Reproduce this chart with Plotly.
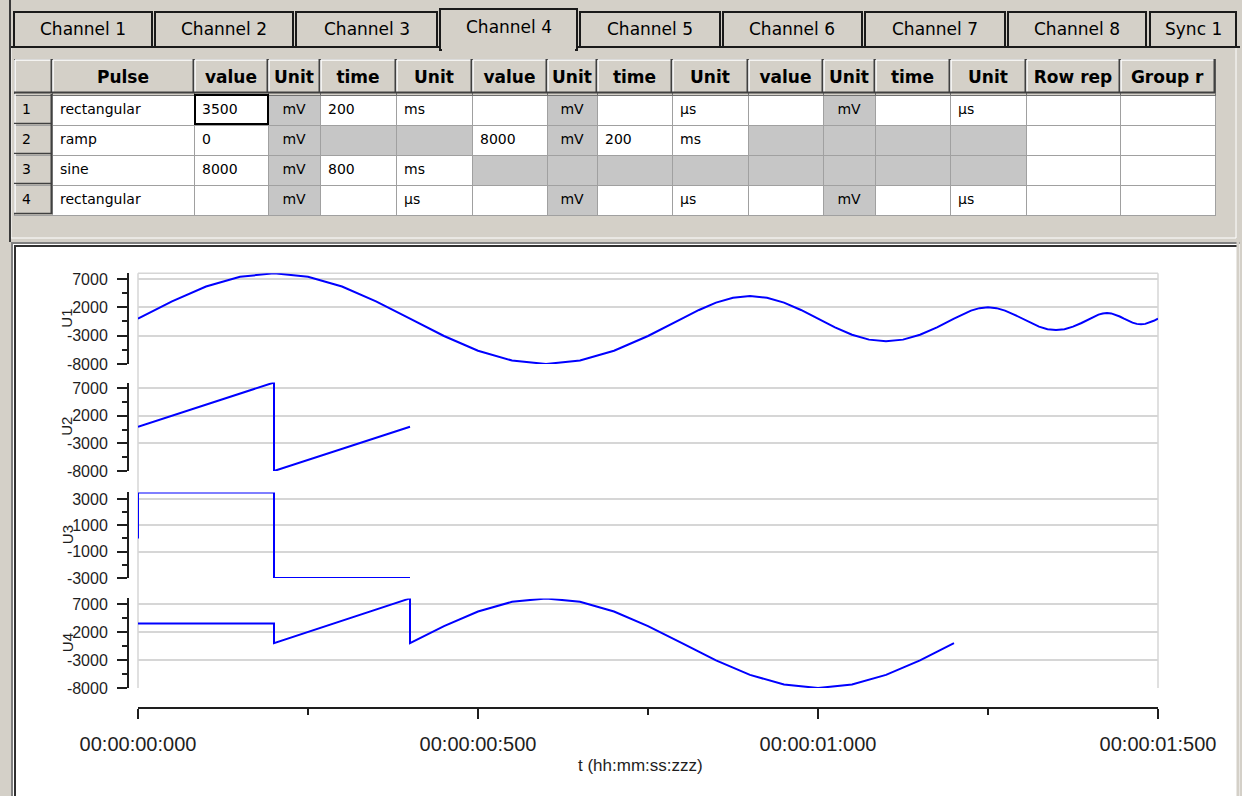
import plotly.graph_objects as go

W, H = 1242, 796

# ---- data (time in ms, voltage in mV) ----
U1_T = [0, 50, 100, 150, 200, 250, 300, 350, 400, 450, 500, 550, 600, 650, 700, 750, 800,
        825, 850, 875, 900, 925, 950, 975, 1000, 1025, 1050, 1075, 1100, 1125, 1150, 1175, 1200,
        1212.5, 1225, 1237.5, 1250, 1262.5, 1275, 1287.5, 1300, 1312.5, 1325, 1337.5, 1350,
        1362.5, 1375, 1387.5, 1400,
        1406.25, 1412.5, 1418.75, 1425, 1431.25, 1437.5, 1443.75, 1450, 1456.25, 1462.5,
        1468.75, 1475, 1481.25, 1487.5, 1493.75, 1500]
U1_V = [0, 3060, 5660, 7390, 8000, 7390, 5660, 3060, 0, -3060, -5660, -7390, -8000, -7390, -5660, -3060, 0,
        1530, 2830, 3700, 4000, 3700, 2830, 1530, 0, -1530, -2830, -3700, -4000, -3700, -2830, -1530, 0,
        770, 1410, 1850, 2000, 1850, 1410, 770, 0, -770, -1410, -1850, -2000,
        -1850, -1410, -770, 0,
        380, 710, 920, 1000, 920, 710, 380, 0, -380, -710,
        -920, -1000, -920, -710, -380, 0]

U2_T = [0, 200, 200, 400]
U2_V = [0, 8000, -8000, 0]

U3_T = [0, 0, 200, 200, 400]
U3_V = [0, 3500, 3500, -3000, -3000]

U4_T = [0, 200, 200, 400, 400, 450, 500, 550, 600, 650, 700, 750, 800,
        850, 900, 950, 1000, 1050, 1100, 1150, 1200]
U4_V = [3500, 3500, 0, 8000, 0, 3060, 5660, 7390, 8000, 7390, 5660, 3060, 0,
        -3060, -5660, -7390, -8000, -7390, -5660, -3060, 0]

X_TICKS = [0, 500, 1000, 1500]
X_LABELS = ["00:00:00:000", "00:00:00:500", "00:00:01:000", "00:00:01:500"]
X_MINOR = [250, 750, 1250]

Y_TICKS = [7000, 2000, -3000, -8000]
Y_LABELS = ["7000", "2000", "-3000", "-8000"]
Y_MINOR = [4500, -500, -5500]
Y3_TICKS = [3000, 1000, -1000, -3000]
Y3_LABELS = ["3000", "1000", "-1000", "-3000"]
Y3_MINOR = [2000, 0, -2000]

TABS = ["Channel 1", "Channel 2", "Channel 3", "Channel 4", "Channel 5",
        "Channel 6", "Channel 7", "Channel 8", "Sync 1"]
SELECTED_TAB = 3

HEADERS = ["", "Pulse", "value", "Unit", "time", "Unit", "value", "Unit", "time", "Unit",
           "value", "Unit", "time", "Unit", "Row\u00a0rep", "Group\u00a0r"]
ROW_NO = ["1", "2", "3", "4"]
PULSE = ["rectangular", "ramp", "sine", "rectangular"]
VALUE1 = ["3500", "0", "8000", ""]
UNIT1 = ["mV", "mV", "mV", "mV"]
TIME1 = ["200", "", "800", ""]
TUNIT1 = ["ms", "", "ms", "µs"]
VALUE2 = ["", "8000", "", ""]
UNIT2 = ["mV", "mV", "", "mV"]
TIME2 = ["", "200", "", ""]
TUNIT2 = ["µs", "ms", "", "µs"]
VALUE3 = ["", "", "", ""]
UNIT3 = ["mV", "", "", "mV"]
TIME3 = ["", "", "", ""]
TUNIT3 = ["µs", "", "", "µs"]
ROW_REP = ["", "", "", ""]
GROUP_R = ["", "", "", ""]
# 1 = greyed-out (disabled) cell
DISABLED = [
    [0, 0, 0, 0], [0, 0, 0, 0], [0, 0, 0, 0], [1, 1, 1, 1],
    [0, 1, 0, 0], [0, 1, 0, 0], [0, 0, 1, 0], [1, 1, 1, 1],
    [0, 0, 1, 0], [0, 0, 1, 0], [0, 1, 1, 0], [1, 1, 1, 1],
    [0, 1, 1, 0], [0, 1, 1, 0], [0, 0, 0, 0], [0, 0, 0, 0],
]

BLUE = "#0000ff"
AXIS = "#1e1e1e"
GRID = "#d6d6d6"
WIN = "#d4d0c8"
DIS = "#c6c6c6"


def px(x):
    return x / W


def py(y):
    return 1 - y / H


def rect(x0, y0, x1, y1, fill=None, line=None, lw=0, layer="below"):
    return dict(type="rect", xref="paper", yref="paper", layer=layer,
                x0=px(x0), x1=px(x1), y0=py(y1), y1=py(y0),
                fillcolor=fill or "rgba(0,0,0,0)",
                line=dict(color=line or "rgba(0,0,0,0)", width=lw))


def hline(x0, x1, y, color, lw=1, layer="below"):
    return dict(type="line", xref="paper", yref="paper", layer=layer,
                x0=px(x0), x1=px(x1), y0=py(y), y1=py(y), line=dict(color=color, width=lw))


def vline(x, y0, y1, color, lw=1, layer="below"):
    return dict(type="line", xref="paper", yref="paper", layer=layer,
                x0=px(x), x1=px(x), y0=py(y0), y1=py(y1), line=dict(color=color, width=lw))


fig = go.Figure()

# ---- signal traces ----
for t, v, ax in [(U1_T, U1_V, "y"), (U2_T, U2_V, "y2"), (U3_T, U3_V, "y3"), (U4_T, U4_V, "y4")]:
    fig.add_trace(go.Scatter(x=t, y=v, mode="lines", xaxis="x", yaxis=ax,
                             line=dict(color=BLUE, width=2), cliponaxis=False,
                             hoverinfo="skip", showlegend=False))

# ---- pulse table ----
col_w = [38, 142, 74, 52, 76, 76, 75, 50, 75, 76, 75, 52, 75, 76, 94, 95]
columns = [ROW_NO, PULSE, VALUE1, UNIT1, TIME1, TUNIT1, VALUE2, UNIT2, TIME2, TUNIT2,
           VALUE3, UNIT3, TIME3, TUNIT3, ROW_REP, GROUP_R]
fills = [[WIN] * 4] + [[DIS if d else "white" for d in col] for col in DISABLED[1:]]
aligns = ["left", "left", "left", "center", "left", "left", "left", "center", "left", "left",
          "left", "center", "left", "left", "left", "left"]
fig.add_trace(go.Table(
    domain=dict(x=[px(14), px(1215)], y=[py(232), py(59)]),
    columnwidth=col_w,
    header=dict(values=["<b>%s</b>" % h for h in HEADERS], height=34, align="center",
                fill_color=WIN, line=dict(color="#707070", width=1),
                font=dict(family="DejaVu Sans", size=17, color="black")),
    cells=dict(values=columns, height=30, align=aligns, fill_color=fills,
               line=dict(color="#a0a0a0", width=1),
               font=dict(family="DejaVu Sans", size=14, color="black")),
))

# ---- window chrome ----
shapes = []
shapes.append(rect(11, 47, 1236, 238, fill=WIN, line="#ffffff", lw=1))
shapes.append(hline(10, 1240, 47, "#1a1a1a", 2))
tab_edges = [(14, 152), (155, 293), (296, 437), (440, 577), (580, 720),
             (723, 862), (865, 1005), (1008, 1146), (1150, 1236)]
annots = []
for i, (label, (l, r)) in enumerate(zip(TABS, tab_edges)):
    if i == SELECTED_TAB:
        shapes.append(rect(l, 9, r, 50, fill=WIN, line="#1a1a1a", lw=2))
        shapes.append(rect(l + 2, 44, r - 2, 52, fill=WIN))
        ty = 27
    else:
        shapes.append(rect(l, 12, r, 47, fill=WIN, line="#1a1a1a", lw=2))
        ty = 29
    annots.append(dict(text=label, x=px((l + r) / 2), y=py(ty), xref="paper", yref="paper",
                       showarrow=False, xanchor="center", yanchor="middle",
                       font=dict(family="DejaVu Sans", size=17, color="black")))
shapes.append(vline(10, 0, 242, "#3a3a3a", 2))

# chart panel
shapes.append(rect(11, 242, 1240, 796, fill="white"))
shapes.append(vline(12, 242, 796, "#808080", 2))
shapes.append(vline(15, 245, 796, "#303030", 2))
shapes.append(hline(11, 1240, 243, "#808080", 2))
shapes.append(hline(14, 1238, 246, "#303030", 2))
shapes.append(vline(1238, 242, 796, WIN, 3))

# plot frame
shapes.append(hline(138, 1158, 273.3, GRID, 1.5))
shapes.append(vline(138, 273.3, 688, GRID, 1.5))
shapes.append(vline(1158, 273.3, 688, GRID, 1.5))

# header 3D edges
edges = [14]
for w in col_w:
    edges.append(edges[-1] + w)
for l, r in zip(edges[:-1], edges[1:]):
    shapes.append(hline(l + 1, r - 1, 60, "#ffffff", 1.5, "above"))
    shapes.append(vline(l + 1, 60, 92, "#ffffff", 1.5, "above"))
    shapes.append(hline(l, r, 92.5, "#404040", 2, "above"))
    shapes.append(vline(r - 0.5, 59, 93, "#404040", 2, "above"))
for k in range(4):
    top, bot = 94 + 30 * k, 94 + 30 * (k + 1)
    shapes.append(vline(15, top, bot - 1, "#ffffff", 1.5, "above"))
    shapes.append(vline(51.5, top, bot, "#404040", 2, "above"))
    shapes.append(hline(14, 52, bot - 0.5, "#404040", 1.5, "above"))

# focused cell
shapes.append(rect(195, 95, 268, 124, line="black", lw=2, layer="above"))

# axis titles
for name, (top, bot) in zip(["U1", "U2", "U3", "U4"],
                            [(273.3, 364), (382.5, 471), (492.4, 578), (598.4, 688)]):
    annots.append(dict(text=name, x=px(67), y=py((top + bot) / 2), xref="paper", yref="paper",
                       showarrow=False, textangle=-90, xanchor="center", yanchor="middle",
                       font=dict(family="Arial", size=15, color=AXIS)))
annots.append(dict(text="t (hh:mm:ss:zzz)", x=px(640), y=py(765), xref="paper", yref="paper",
                   showarrow=False, xanchor="center", yanchor="middle",
                   font=dict(family="Arial", size=17, color=AXIS)))


def yax(top, bot, rng, ticks, labels, minor):
    return dict(domain=[py(bot), py(top)], range=rng, anchor="free", position=px(128),
                side="left", showline=True, linecolor=AXIS, linewidth=2, automargin=False,
                ticks="outside", ticklen=10, tickwidth=2, tickcolor=AXIS,
                tickmode="array", tickvals=ticks, ticktext=labels, ticklabelstandoff=6,
                showgrid=True, gridcolor=GRID, gridwidth=1.5, zeroline=False,
                tickfont=dict(family="Arial", size=16, color=AXIS),
                minor=dict(tickvals=minor, ticks="outside", ticklen=5, tickwidth=2,
                           tickcolor=AXIS, showgrid=False))


fig.update_layout(
    width=W, height=H, margin=dict(l=0, r=0, t=0, b=0, pad=0, autoexpand=False),
    paper_bgcolor=WIN, plot_bgcolor="rgba(0,0,0,0)", showlegend=False,
    shapes=shapes, annotations=annots,
    xaxis=dict(domain=[px(138), px(1158)], range=[0, 1500], anchor="free", position=py(708),
               showline=True, linecolor=AXIS, linewidth=2, ticks="outside", ticklen=10,
               tickwidth=2, tickcolor=AXIS, tickmode="array", tickvals=X_TICKS,
               ticktext=X_LABELS, showgrid=False, zeroline=False, ticklabelstandoff=8,
               automargin=False,
               tickfont=dict(family="Arial", size=20, color=AXIS),
               minor=dict(tickvals=X_MINOR, ticks="outside", ticklen=6, tickwidth=2,
                          tickcolor=AXIS, showgrid=False)),
    yaxis=yax(273.3, 364, [-8000, 8000], Y_TICKS, Y_LABELS, Y_MINOR),
    yaxis2=yax(382.5, 471, [-8000, 8000], Y_TICKS, Y_LABELS, Y_MINOR),
    yaxis3=yax(492.4, 578, [-3000, 3500], Y3_TICKS, Y3_LABELS, Y3_MINOR),
    yaxis4=yax(598.4, 688, [-8000, 8000], Y_TICKS, Y_LABELS, Y_MINOR),
)

fig.write_html("out.html", config={"displayModeBar": False},
               post_script="document.body.style.margin = '0px';")
